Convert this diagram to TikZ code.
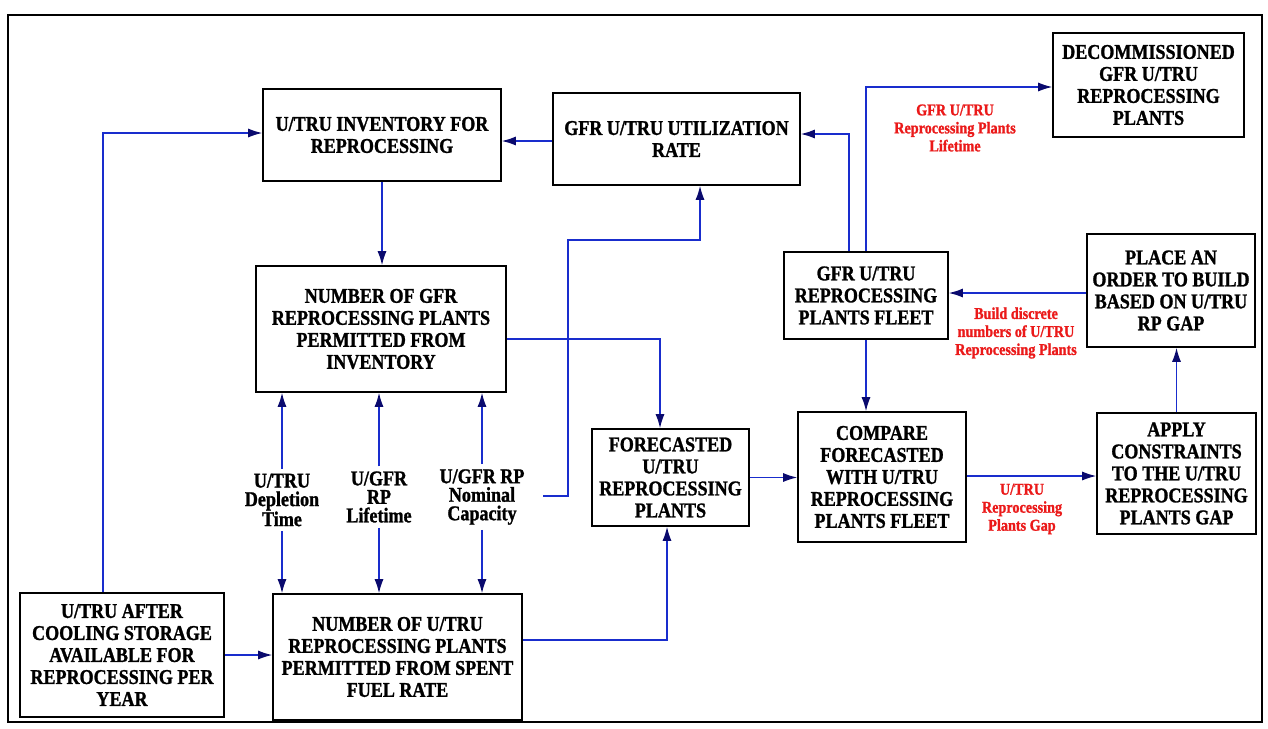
\documentclass[tikz,border=0pt]{standalone}
\usepackage{fontspec}
\setmainfont{Liberation Serif}[FakeStretch=0.86, BoldFeatures={FakeBold=1.2}]
\usetikzlibrary{arrows.meta}
\definecolor{linkblue}{RGB}{25,45,205}
\definecolor{tipnavy}{RGB}{10,10,110}
\definecolor{notered}{RGB}{235,25,25}
\tikzset{
  blk/.style={draw=black, line width=1.6pt, align=center, inner sep=0pt,
    font=\bfseries\fontsize{21}{22}\selectfont},
  param/.style={align=center, inner sep=5pt,
    font=\bfseries\fontsize{21}{18.5}\selectfont},
  note/.style={align=center, text=notered, inner sep=2pt,
    font=\bfseries\fontsize{16.5}{18}\selectfont},
  arr/.style={draw=linkblue, line width=1.3pt,
    -{Latex[length=14pt,width=9pt,color=tipnavy]}},
}
\begin{document}
\begin{tikzpicture}[x=1pt,y=-1pt]
\useasboundingbox (0,0) rectangle (1268,728);
\fill[white] (0,0) rectangle (1268,728);
\draw[line width=1.6pt] (8,15) rectangle (1262,722);

% blocks
\node[blk, minimum width=238pt, minimum height=92pt] (inv) at (382,135)
  {U/TRU INVENTORY FOR\\REPROCESSING};
\node[blk, minimum width=247pt, minimum height=92pt] (util) at (676.5,139)
  {GFR U/TRU UTILIZATION\\RATE};
\node[blk, minimum width=191pt, minimum height=104pt] (decom) at (1148.5,85)
  {DECOMMISSIONED\\GFR U/TRU\\REPROCESSING\\PLANTS};
\node[blk, minimum width=164pt, minimum height=87pt] (fleet) at (866,295.5)
  {GFR U/TRU\\REPROCESSING\\PLANTS FLEET};
\node[blk, minimum width=168pt, minimum height=113pt] (order) at (1171,290.5)
  {PLACE AN\\ORDER TO BUILD\\BASED ON U/TRU\\RP GAP};
\node[blk, minimum width=250pt, minimum height=126pt] (ngfr) at (381,329)
  {NUMBER OF GFR\\REPROCESSING PLANTS\\PERMITTED FROM\\INVENTORY};
\node[blk, minimum width=249pt, minimum height=126pt] (nutru) at (397.5,657)
  {NUMBER OF U/TRU\\REPROCESSING PLANTS\\PERMITTED FROM SPENT\\FUEL RATE};
\node[blk, minimum width=204pt, minimum height=124pt] (after) at (122,655)
  {U/TRU AFTER\\COOLING STORAGE\\AVAILABLE FOR\\REPROCESSING PER\\YEAR};
\node[blk, minimum width=157pt, minimum height=97pt] (fore) at (670.5,477.5)
  {FORECASTED\\U/TRU\\REPROCESSING\\PLANTS};
\node[blk, minimum width=168pt, minimum height=130pt] (comp) at (882,477)
  {COMPARE\\FORECASTED\\WITH U/TRU\\REPROCESSING\\PLANTS FLEET};
\node[blk, minimum width=159pt, minimum height=121pt] (apply) at (1176.5,473.5)
  {APPLY\\CONSTRAINTS\\TO THE U/TRU\\REPROCESSING\\PLANTS GAP};

% parameters between the two plant-count blocks
\node[param] (ldep) at (282,500) {U/TRU\\Depletion\\Time};
\node[param] (llife) at (379,497) {U/GFR\\RP\\Lifetime};
\node[param] (lcap) at (482,497) {U/GFR RP\\Nominal\\Capacity};
\coordinate (capout) at (543,496);

% red flow notes
\node[note] (rlife) at (955,128) {GFR U/TRU\\Reprocessing Plants\\Lifetime};
\node[note] (rbuild) at (1016,333) {Build discrete\\numbers of U/TRU\\Reprocessing Plants};
\node[note] (rgap) at (1022,509) {U/TRU\\Reprocessing\\Plants Gap};

% connectors
\draw[arr] ([xshift=-19pt]after.north) |- ([yshift=2pt]inv.west);
\draw[arr] ([yshift=-2pt]util.west) -- ([yshift=-2pt]util.west -| inv.east);
\draw[arr] (inv.south) -- (inv.south |- ngfr.north);
\draw[arr] ([yshift=-10pt]ngfr.east) -| ([xshift=-10.5pt]fore.north);
\draw[arr] (capout) -| (568,240) -| ([xshift=23.5pt]util.south);
\draw[arr] ([xshift=-17pt]fleet.north) |- ([yshift=5pt]util.east);
\draw[arr] (fleet.north) |- ([yshift=-2pt]decom.west);
\draw[arr] ([yshift=-2.5pt]order.west) -- ([yshift=-2.5pt]order.west -| fleet.east);
\draw[arr] (fleet.south) -- (fleet.south |- comp.north);
\draw[arr] (fore.east) -- (fore.east -| comp.west);
\draw[arr] ([yshift=1pt]comp.east) -- ([yshift=1pt]comp.east -| apply.west);
\draw[arr] (apply.north) -- (apply.north |- order.south);
\draw[arr] ([yshift=17pt]nutru.east) -| ([xshift=-3.5pt]fore.south);
\draw[arr] (after.east) -- (after.east -| nutru.west);

\draw[arr] (ldep.north) -- (ldep.north |- ngfr.south);
\draw[arr] (ldep.south) -- (ldep.south |- nutru.north);
\draw[arr] (llife.north) -- (llife.north |- ngfr.south);
\draw[arr] (llife.south) -- (llife.south |- nutru.north);
\draw[arr] (lcap.north) -- (lcap.north |- ngfr.south);
\draw[arr] (lcap.south) -- (lcap.south |- nutru.north);
\end{tikzpicture}
\end{document}
